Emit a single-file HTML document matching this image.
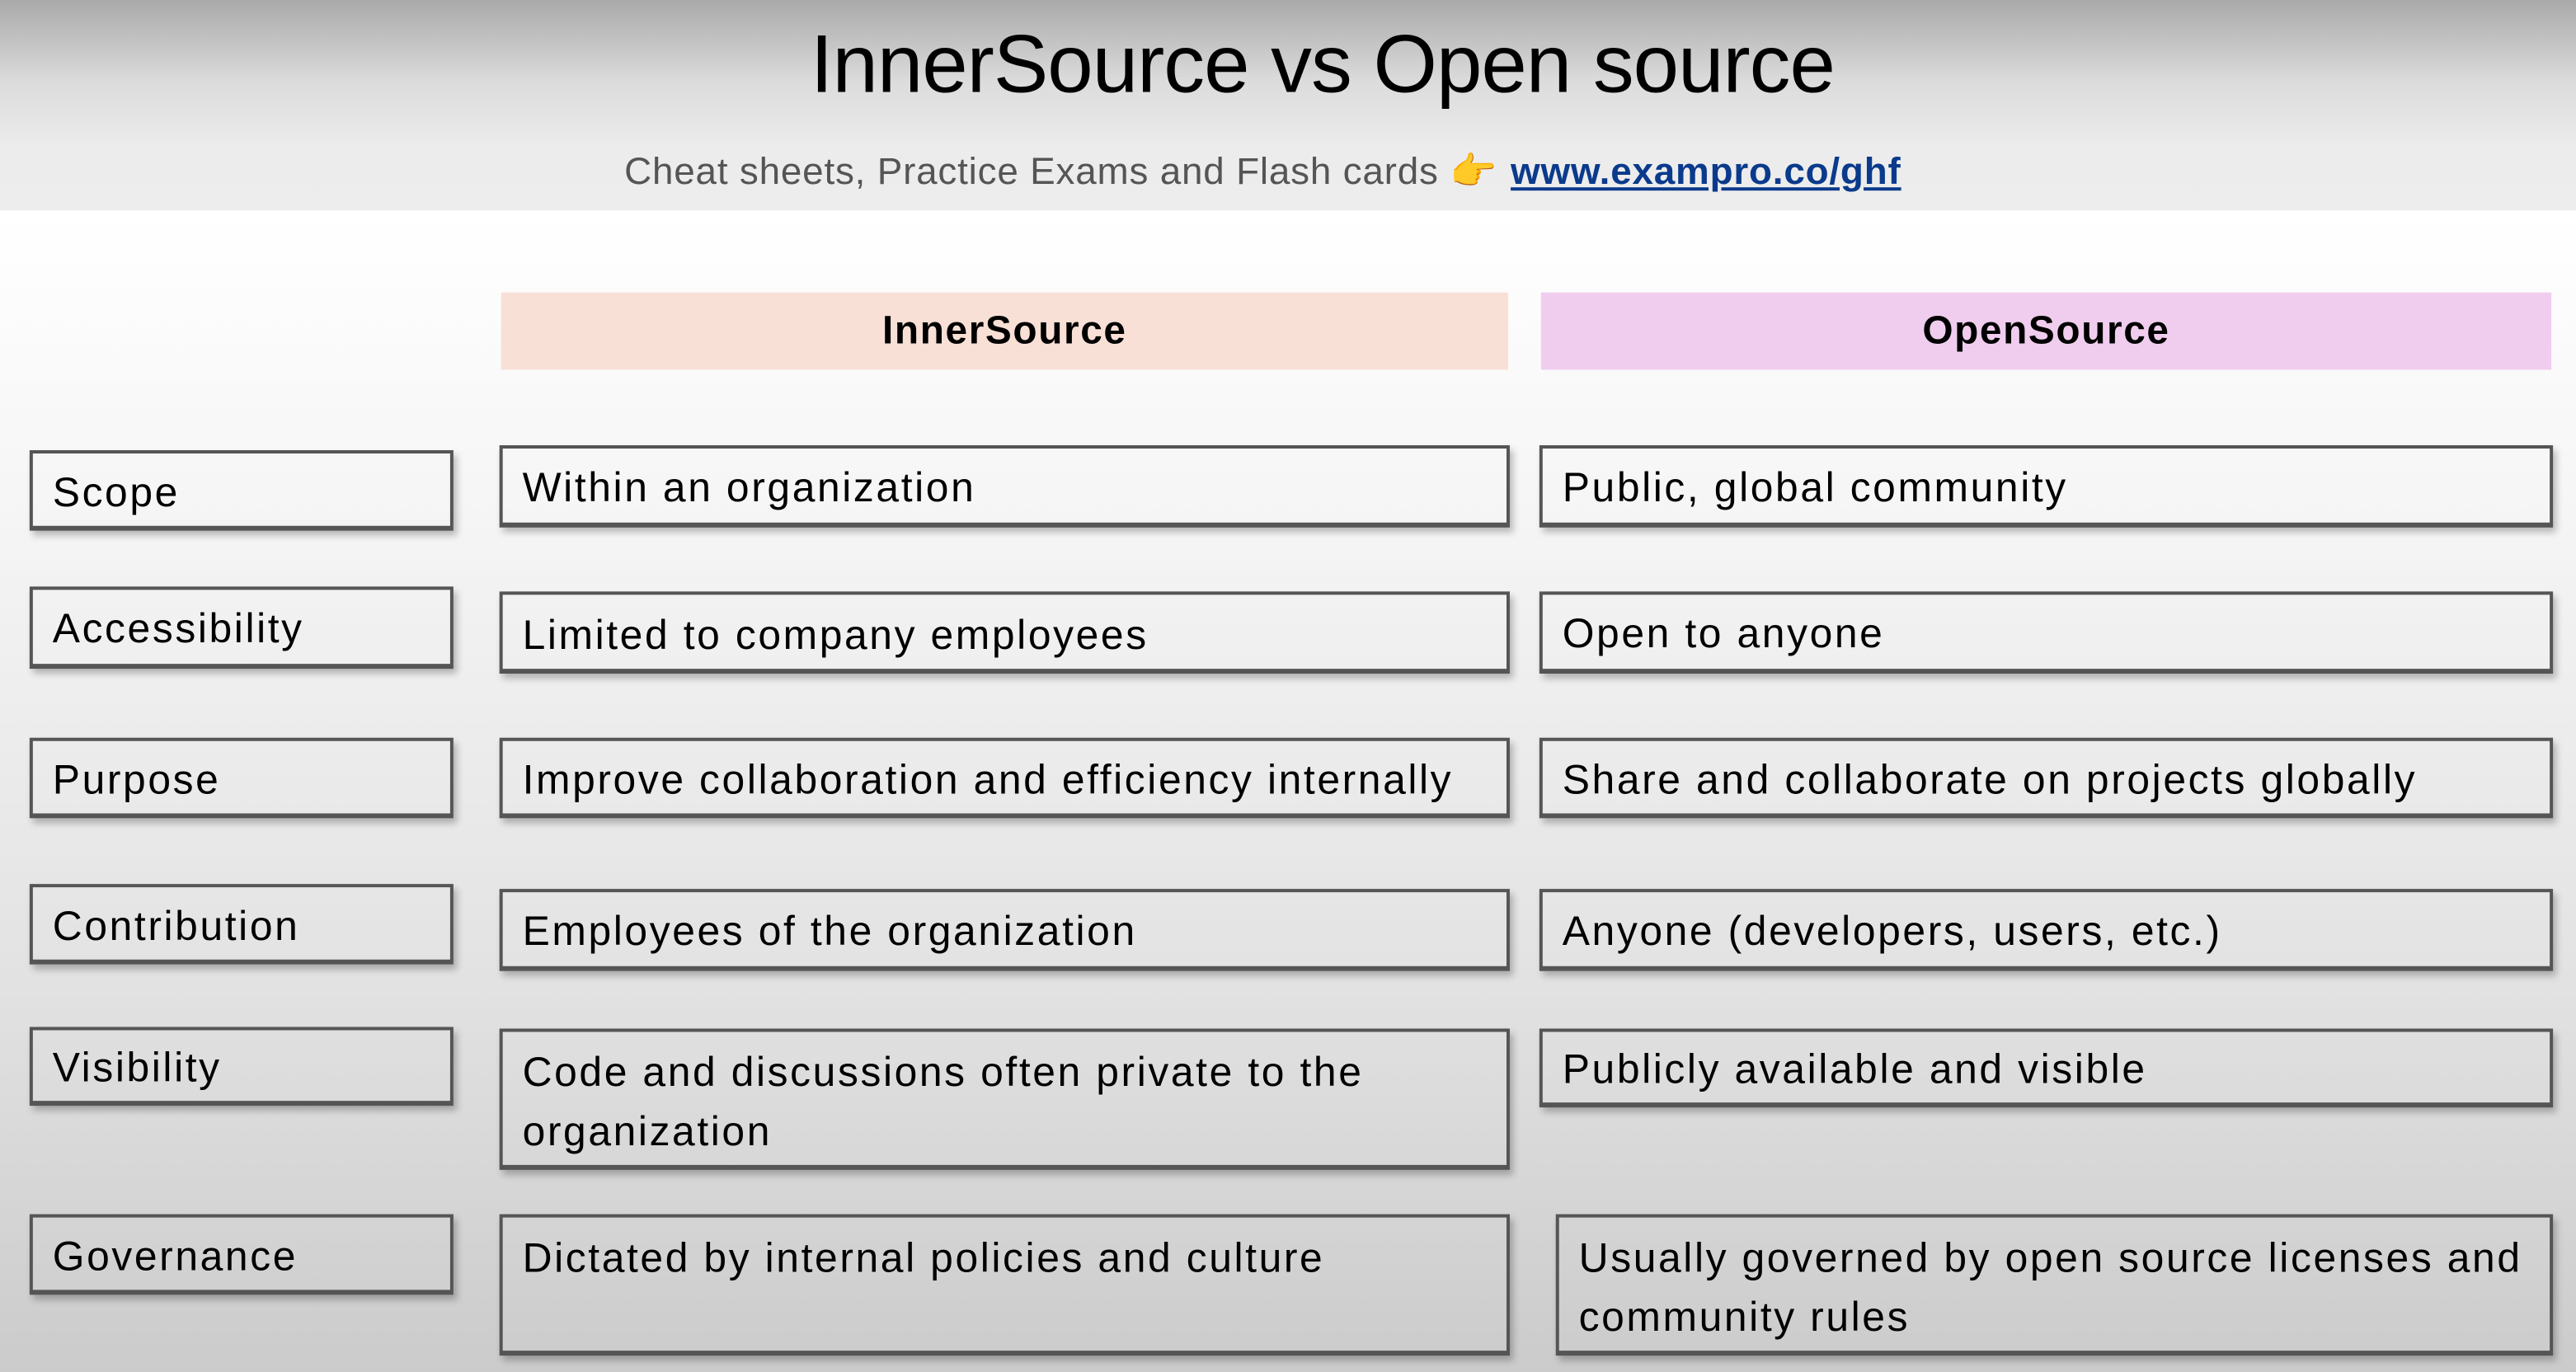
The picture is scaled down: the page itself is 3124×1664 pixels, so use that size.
<!DOCTYPE html>
<html><head><style>
html,body{margin:0;padding:0;}
body{width:3124px;height:1664px;overflow:hidden;background:#fff;}
#s{position:absolute;left:0;top:0;width:1568px;height:835px;transform:scale(1.99235,1.99281);transform-origin:0 0;
background:linear-gradient(to bottom,#fff 0px,#fff 128px,#f6f6f6 300px,#e2e2e2 600px,#cbcbcb 835px);
font-family:"Liberation Sans",sans-serif;}
#hd{position:absolute;left:0;top:0;width:1568px;height:128px;background:linear-gradient(to bottom,#a9a9a9 0,#dcdcdc 50px,#ececec 90px,#ededed 128px);}
.t{position:absolute;left:0;width:1610px;text-align:center;top:10px;font-size:50px;color:#000;letter-spacing:-0.5px;}
.sub{position:absolute;left:380px;top:91px;font-size:23px;color:#555;white-space:nowrap;letter-spacing:0.4px;}
.sub a{color:#0a3a8c;text-decoration:underline;font-weight:bold;margin-left:8px;}
.h{position:absolute;top:178px;height:47px;font-weight:bold;font-size:24px;text-align:center;line-height:47px;letter-spacing:0.8px;}
.b{position:absolute;box-sizing:border-box;border:2px solid #555;border-bottom-width:3px;box-shadow:2px 3px 4px rgba(0,0,0,.25);font-size:25px;letter-spacing:1.3px;padding:10px 12px 0 12px;line-height:36px;color:#000;white-space:nowrap;}
</style></head><body><div id="s">
<div id="hd"></div>
<div class="t">InnerSource vs Open source</div>
<div class="sub">Cheat sheets, Practice Exams and Flash cards <span style="color:#e8a400">👉</span><a>www.exampro.co/ghf</a></div>
<div class="h" style="left:305px;width:613px;background:#f8e0d6">InnerSource</div>
<div class="h" style="left:938px;width:615px;background:#f0cdee">OpenSource</div>

<div class="b" style="left:18px;top:274px;width:258px;height:49px;padding-top:6px">Scope</div>
<div class="b" style="left:18px;top:357px;width:258px;height:50px;padding-top:6px">Accessibility</div>
<div class="b" style="left:18px;top:449px;width:258px;height:49px;padding-top:6px">Purpose</div>
<div class="b" style="left:18px;top:538px;width:258px;height:49px;padding-top:6px">Contribution</div>
<div class="b" style="left:18px;top:625px;width:258px;height:48px;padding-top:5px">Visibility</div>
<div class="b" style="left:18px;top:739px;width:258px;height:49px;padding-top:6px">Governance</div>

<div class="b" style="left:304px;top:271px;width:615px;height:50px;padding-top:6px">Within an organization</div>
<div class="b" style="left:304px;top:360px;width:615px;height:50px;padding-top:7px">Limited to company employees</div>
<div class="b" style="left:304px;top:449px;width:615px;height:49px;padding-top:6px">Improve collaboration and efficiency internally</div>
<div class="b" style="left:304px;top:541px;width:615px;height:50px;padding-top:6px">Employees of the organization</div>
<div class="b" style="left:304px;top:626px;width:615px;height:86px;padding-top:7px">Code and discussions often private to the<br>organization</div>
<div class="b" style="left:304px;top:739px;width:615px;height:86px;padding-top:7px">Dictated by internal policies and culture</div>

<div class="b" style="left:937px;top:271px;width:617px;height:50px;padding-top:6px">Public, global community</div>
<div class="b" style="left:937px;top:360px;width:617px;height:50px;padding-top:6px">Open to anyone</div>
<div class="b" style="left:937px;top:449px;width:617px;height:49px;padding-top:6px">Share and collaborate on projects globally</div>
<div class="b" style="left:937px;top:541px;width:617px;height:50px;padding-top:6px">Anyone (developers, users, etc.)</div>
<div class="b" style="left:937px;top:626px;width:617px;height:48px;padding-top:5px">Publicly available and visible</div>
<div class="b" style="left:947px;top:739px;width:607px;height:86px;padding-top:7px">Usually governed by open source licenses and<br>community rules</div>
</div></body></html>
